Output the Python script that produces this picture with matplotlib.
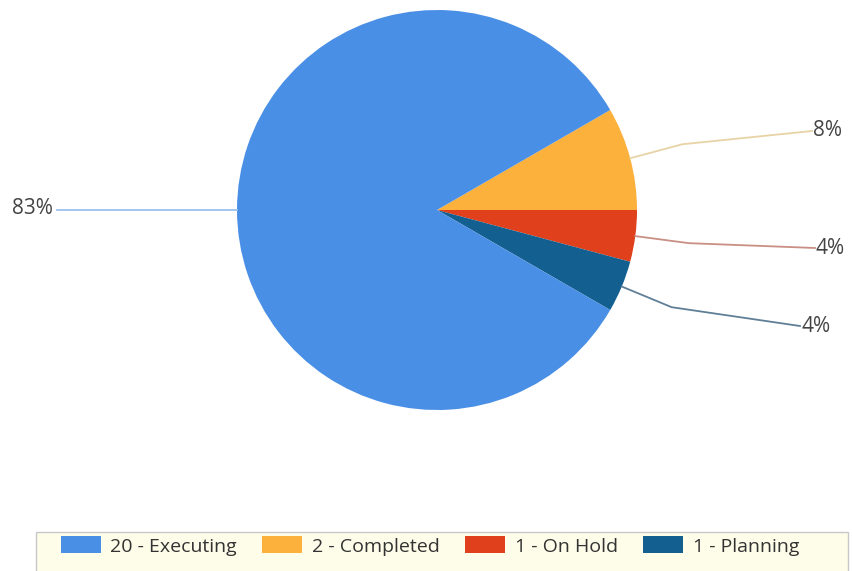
import numpy as np
import matplotlib.pyplot as plt
from matplotlib.patches import Rectangle, Patch

plt.rcParams["font.family"] = ["Open Sans", "DejaVu Sans"]

# data (drawing order: clockwise from 30 degrees)
statuses = ["Completed", "On Hold", "Planning", "Executing"]
counts = [2, 1, 1, 20]
colors = ["#fbb13c", "#e0401b", "#135f8f", "#4a8fe6"]
line_colors = ["#e8d3a6", "#c98f84", "#5f7f96", "#9cc0ee"]
legend_order = ["Executing", "Completed", "On Hold", "Planning"]

# layout in pixel units (y measured from bottom)
W, H = 852, 571
cx, cy, r = 437, H - 210, 200
label_ends = {
    "Completed": (812, H - 131),
    "On Hold": (815, H - 248),
    "Planning": (800, H - 326),
    "Executing": (57, H - 210),
}

fig = plt.figure(figsize=(W / 100, H / 100), dpi=100)
ax = fig.add_axes([0, 0, 1, 1])

wedges, _ = ax.pie(counts, colors=colors, startangle=30, counterclock=False,
                   center=(cx, cy), radius=r, frame=True,
                   wedgeprops=dict(linewidth=0))
ax.set_xlim(0, W)
ax.set_ylim(0, H)
ax.set_aspect("equal")
ax.axis("off")

total = sum(counts)
for w, name, val, lc in zip(wedges, statuses, counts, line_colors):
    mid = np.deg2rad((w.theta1 + w.theta2) / 2)
    px, py = cx + r * np.cos(mid), cy + r * np.sin(mid)
    ex, ey = label_ends[name]
    pct = f"{round(val / total * 100)}%"
    if name == "Executing":
        ax.plot([px, ex], [py, ey], color=lc, lw=1.3)
        ax.text(ex - 4, ey + 1, pct, ha="right", va="center", fontsize=15, color="#444444")
    else:
        bx, by = cx + r * 1.27 * np.cos(mid), cy + r * 1.27 * np.sin(mid)
        ax.plot([px, bx, ex], [py, by, ey], color=lc, lw=1.3)
        ax.text(ex + 1, ey, pct, ha="left", va="center", fontsize=15, color="#444444")

# legend box
ax.add_patch(Rectangle((36, -5), 812, H - 532 + 5, facecolor="#fdfde9",
                       edgecolor="#c8c8c8", lw=1))
handles = [Patch(facecolor=colors[statuses.index(s)]) for s in legend_order]
labels = [f"{counts[statuses.index(s)]} - {s}" for s in legend_order]
ax.legend(handles, labels, ncol=4, loc="center", bbox_to_anchor=(430 / W, 25 / H),
          frameon=False, fontsize=14, handlelength=2.05, handleheight=0.95,
          handletextpad=0.5, columnspacing=1.3, labelcolor="#333333",
          borderpad=0.2)

fig.savefig("out.png", dpi=100)
